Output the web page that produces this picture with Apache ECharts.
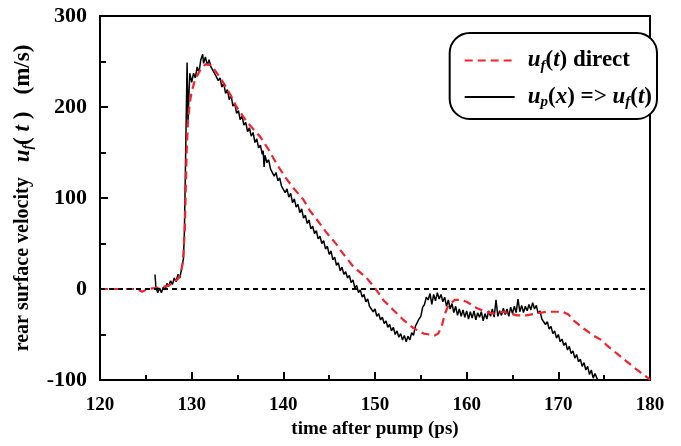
<!DOCTYPE html>
<html>
<head>
<meta charset="utf-8">
<script src="https://cdn.jsdelivr.net/npm/echarts@6/dist/echarts.min.js"></script>
<style>
  html, body { margin: 0; padding: 0; background: #fff; }
  #chart { width: 681px; height: 446px; }
</style>
</head>
<body>
<div id="chart"></div>
<script>
// rear surface velocity vs time after pump
var xTicks = [120, 130, 140, 150, 160, 170, 180];
var yTicks = [-100, 0, 100, 200, 300];

// u_f(t) measured directly (red dashed)
var directData = [
    [120, 0], [124, 0], [124.6, -3], [125.2, 0], [126, 1], [126.8, 2], [127.5, 4], [128, 7],
    [128.5, 11], [128.8, 17], [129.05, 30], [129.25, 65], [129.45, 150], [129.6, 185], [129.8, 205],
    [130, 217], [130.4, 231], [130.9, 240], [131.5, 247], [132.1, 246], [132.7, 238], [133.5, 226],
    [134.2, 214], [134.9, 200], [136, 184], [137.5, 167], [138.4, 153], [139.3, 137], [140.2, 123],
    [141.1, 111], [142.2, 98], [142.9, 86], [143.6, 77], [144.7, 62], [145.8, 49], [146.2, 43],
    [147.6, 25], [149.1, 12], [150, 1], [150.9, -12], [152, -23], [153.1, -34], [154.2, -43],
    [155.3, -49], [156.5, -51], [156.9, -49], [157.3, -40], [157.6, -28], [158, -18], [158.7, -12],
    [159.3, -12], [160, -14], [161.1, -21], [162, -25], [163, -27], [164, -25], [165.5, -29],
    [166.5, -29], [167.6, -27], [168.7, -25], [170.5, -25], [171.1, -28], [171.6, -34], [172.7, -43],
    [173.8, -51], [174.7, -56], [175.3, -62], [176.4, -71], [177.5, -80], [178.6, -89], [179.8, -98],
    [180, -100]
];

// u_p(x) => u_f(t) (black, noisy)
var convertedData = [
    [126.0, 16], [126.1, 2], [126.3, -4], [126.5, 1], [126.7, -4], [126.9, 2], [127.1, -1], [127.3, 6],
    [127.5, 3], [127.7, 9], [127.9, 5], [128.1, 12], [128.3, 8], [128.5, 16], [128.7, 12], [128.9, 22],
    [129.0, 24], [129.1, 33], [129.2, 60], [129.3, 120], [129.4, 185], [129.5, 249], [129.6, 182],
    [129.7, 214], [129.8, 237], [130.0, 227], [130.2, 237], [130.4, 232], [130.6, 244], [130.8, 238],
    [131.0, 252], [131.2, 258], [131.3, 248], [131.5, 255], [131.7, 246], [131.9, 252], [132.1, 244],
    [132.3, 246], [132.5, 237], [132.7, 239], [132.9, 229], [133.1, 232], [133.3, 222], [133.5, 226],
    [133.7, 215], [133.9, 219], [134.1, 208], [134.3, 213], [134.5, 201], [134.7, 204], [134.9, 193],
    [135.1, 196], [135.3, 186], [135.5, 190], [135.7, 180], [135.9, 183], [136.1, 173], [136.3, 177],
    [136.5, 168], [136.7, 172], [136.9, 161], [137.1, 165], [137.3, 155], [137.5, 158], [137.7, 148],
    [137.8, 152], [137.9, 134], [138.0, 147], [138.2, 139], [138.4, 142], [138.6, 132], [138.8, 134],
    [139.0, 124], [139.2, 128], [139.4, 119], [139.6, 122], [139.8, 113], [140.0, 115], [140.2, 106],
    [140.4, 110], [140.6, 101], [140.8, 105], [141.0, 95], [141.2, 99], [141.4, 90], [141.6, 93],
    [141.8, 84], [142.0, 88], [142.2, 78], [142.4, 81], [142.6, 72], [142.8, 76], [143.0, 66],
    [143.2, 69], [143.4, 61], [143.6, 64], [143.8, 55], [144.0, 58], [144.2, 50], [144.4, 53],
    [144.6, 44], [144.8, 47], [145.0, 38], [145.2, 42], [145.4, 32], [145.6, 35], [145.8, 26],
    [146.0, 29], [146.2, 20], [146.4, 24], [146.6, 16], [146.8, 19], [147.0, 12], [147.2, 15],
    [147.4, 7], [147.6, 10], [147.8, 1], [148.0, 4], [148.2, -4], [148.4, -1], [148.6, -9],
    [148.8, -6], [149.0, -14], [149.2, -11], [149.4, -19], [149.6, -17], [149.8, -25], [150.0, -22],
    [150.2, -30], [150.4, -27], [150.6, -34], [150.8, -31], [151.0, -38], [151.2, -35], [151.4, -42],
    [151.6, -39], [151.8, -46], [152.0, -42], [152.2, -50], [152.4, -46], [152.6, -53], [152.8, -49],
    [153.0, -56], [153.2, -51], [153.4, -58], [153.6, -52], [153.8, -56], [154.0, -48], [154.2, -51],
    [154.4, -41], [154.6, -43], [154.8, -33], [155.0, -30], [155.2, -20], [155.4, -17], [155.6, -9],
    [155.8, -12], [156.0, -5], [156.2, -17], [156.4, -6], [156.6, -13], [156.8, -4], [157.0, -11],
    [157.2, -6], [157.4, -14], [157.6, -9], [157.8, -19], [158.0, -12], [158.2, -22], [158.4, -16],
    [158.6, -26], [158.8, -19], [159.0, -29], [159.2, -22], [159.4, -30], [159.6, -23], [159.8, -31],
    [160.0, -24], [160.2, -33], [160.4, -25], [160.6, -32], [160.8, -24], [161.0, -34], [161.2, -26],
    [161.4, -31], [161.6, -25], [161.8, -35], [162.0, -27], [162.2, -33], [162.4, -24], [162.6, -30],
    [162.8, -22], [163.0, -31], [163.2, -12], [163.4, -30], [163.6, -24], [163.8, -29], [164.0, -21],
    [164.2, -28], [164.4, -22], [164.6, -30], [164.8, -20], [165.0, -27], [165.2, -19], [165.4, -26],
    [165.6, -11], [165.8, -25], [166.0, -18], [166.2, -26], [166.4, -19], [166.6, -24], [166.8, -17],
    [167.0, -23], [167.2, -15], [167.4, -22], [167.6, -18], [167.8, -27], [168.0, -24], [168.2, -33],
    [168.4, -31], [168.6, -39], [168.8, -36], [169.0, -44], [169.2, -41], [169.4, -49], [169.6, -46],
    [169.8, -54], [170.0, -50], [170.2, -58], [170.4, -55], [170.6, -62], [170.8, -59], [171.0, -67],
    [171.2, -63], [171.4, -71], [171.6, -68], [171.8, -76], [172.0, -72], [172.2, -80], [172.4, -77],
    [172.6, -85], [172.8, -81], [173.0, -89], [173.2, -85], [173.4, -94], [173.6, -89], [173.8, -98],
    [174.0, -93], [174.3, -100]
];

var serif = "'Liberation Serif', 'Times New Roman', serif";

var richText = {
    n: { fontFamily: serif, fontWeight: 'bold', fontSize: 23, color: '#000', lineHeight: 26 },
    u: { fontFamily: serif, fontWeight: 'bold', fontStyle: 'italic', fontSize: 23, color: '#000', lineHeight: 26 },
    s: { fontFamily: serif, fontWeight: 'bold', fontStyle: 'italic', fontSize: 15, color: '#000', lineHeight: 13, verticalAlign: 'bottom' }
};
var axisRich = {
    n: { fontFamily: serif, fontWeight: 'bold', fontSize: 20, color: '#000', lineHeight: 26 },
    b: { fontFamily: serif, fontWeight: 'bold', fontSize: 23, color: '#000', lineHeight: 26 },
    u: { fontFamily: serif, fontWeight: 'bold', fontStyle: 'italic', fontSize: 23, color: '#000', lineHeight: 26 },
    s: { fontFamily: serif, fontWeight: 'bold', fontStyle: 'italic', fontSize: 14, color: '#000', lineHeight: 12, verticalAlign: 'bottom' }
};

var chart = echarts.init(document.getElementById('chart'));
var option = {
    animation: false,
    backgroundColor: '#fff',
    grid: {
        left: 100,
        right: 31,
        top: 16,
        bottom: 66,
        show: true,
        borderColor: '#000',
        borderWidth: 2
    },
    legend: {
        right: 24,
        top: 33,
        orient: 'vertical',
        itemWidth: 50,
        itemHeight: 26,
        itemGap: 12,
        padding: [16, 5, 9, 14],
        backgroundColor: '#fff',
        borderColor: '#000',
        borderWidth: 2,
        borderRadius: 20,
        itemStyle: { opacity: 0 },
        data: ['direct', 'converted'],
        formatter: function (name) {
            if (name === 'direct') {
                return '{u|u}{s|f}{n|(}{u|t}{n|) direct}';
            }
            return '{u|u}{s|p}{n|(}{u|x}{n|) => }{u|u}{s|f}{n|(}{u|t}{n|)}';
        },
        textStyle: { rich: richText, padding: [0, 0, 0, 8] }
    },
    xAxis: {
        type: 'value',
        min: 120,
        max: 180,
        interval: 10,
        name: 'time after pump (ps)',
        nameLocation: 'middle',
        nameGap: 32,
        nameTextStyle: { fontFamily: serif, fontWeight: 'bold', fontSize: 19, color: '#000' },
        axisLine: { onZero: false, lineStyle: { color: '#000', width: 2 } },
        axisTick: { inside: true, length: 8, lineStyle: { color: '#000', width: 2 } },
        minorTick: { show: true, splitNumber: 2, length: 5, lineStyle: { color: '#000', width: 2 } },
        splitLine: { show: false },
        axisLabel: {
            margin: 16,
            fontFamily: serif,
            fontWeight: 'bold',
            fontSize: 19,
            color: '#000',
            customValues: xTicks
        }
    },
    yAxis: {
        type: 'value',
        min: -100,
        max: 300,
        interval: 100,
        name: '{n|rear surface velocity   }{u|u}{s|f}{b|( }{u|t}{b| )   (m/s)}',
        nameLocation: 'middle',
        nameGap: 60,
        nameTextStyle: { rich: axisRich, padding: [0, 0, 0, 0] },
        axisLine: { onZero: false, lineStyle: { color: '#000', width: 2 } },
        axisTick: { inside: true, length: 8, lineStyle: { color: '#000', width: 2 } },
        minorTick: { show: true, splitNumber: 2, length: 6, lineStyle: { color: '#000', width: 2 } },
        splitLine: { show: false },
        axisLabel: {
            margin: 13,
            fontFamily: serif,
            fontWeight: 'bold',
            fontSize: 22,
            color: '#000',
            customValues: yTicks
        }
    },
    series: [
        {
            name: 'converted',
            type: 'line',
            data: convertedData,
            showSymbol: false,
            symbol: 'none',
            lineStyle: { color: '#000', width: 1.5 },
            itemStyle: { color: '#000' },
            markLine: {
                silent: true,
                symbol: 'none',
                label: { show: false },
                lineStyle: { color: '#000', type: [5, 4], width: 2 },
                data: [{ yAxis: 0 }]
            }
        },
        {
            name: 'direct',
            type: 'line',
            data: directData,
            showSymbol: false,
            symbol: 'none',
            lineStyle: { color: '#f5222d', width: 2.2, type: [8, 5] },
            itemStyle: { color: '#f5222d' }
        }
    ]
};
chart.setOption(option);
window.addEventListener('resize', function () {
    chart.resize();
});
</script>
</body>
</html>
